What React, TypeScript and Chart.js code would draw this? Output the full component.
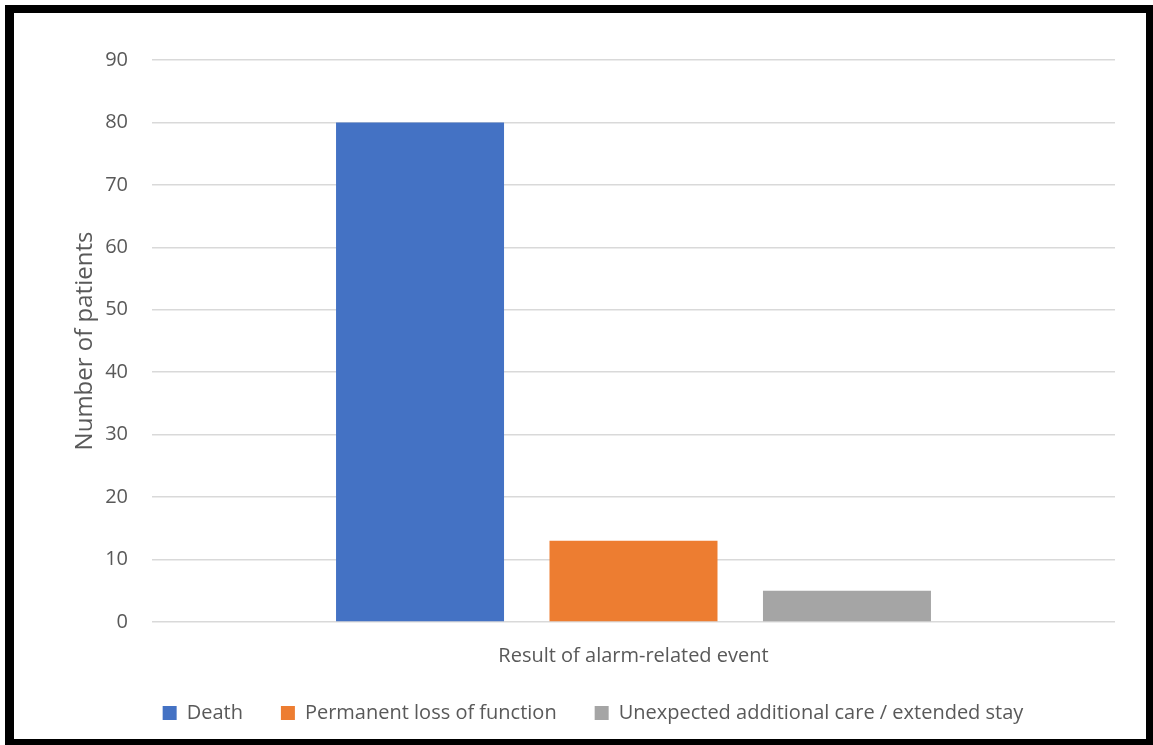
import React, { useEffect, useRef } from "react";
import { Chart, registerables } from "chart.js";

Chart.register(...registerables);

const categories = ["Result of alarm-related event"];
const seriesNames = ["Death", "Permanent loss of function", "Unexpected additional care / extended stay"];
const deathValues = [80];
const permanentLossValues = [13];
const additionalCareValues = [5];
const seriesColors = ["#4472C4", "#ED7D31", "#A5A5A5"];
const yTickMax = 90;
const yTickStep = 10;
const yTitle = "Number of patients";

const FONT = "'Open Sans', 'DejaVu Sans', sans-serif";
const TEXT = "#595959";

export default function App() {
  const canvasRef = useRef<HTMLCanvasElement | null>(null);

  useEffect(() => {
    document.body.style.margin = "0";
    const canvas = canvasRef.current;
    if (!canvas) return;
    const values = [deathValues, permanentLossValues, additionalCareValues];
    const chart = new Chart(canvas, {
      type: "bar",
      data: {
        labels: categories,
        datasets: seriesNames.map((name, i) => ({
          label: name,
          data: values[i],
          backgroundColor: seriesColors[i],
          borderWidth: 0,
          categoryPercentage: 0.665,
          barPercentage: 0.787,
        })),
      },
      options: {
        animation: false,
        responsive: false,
        maintainAspectRatio: false,
        layout: { padding: { left: 71, right: 38, top: 60, bottom: 12 } },
        plugins: {
          tooltip: { enabled: false },
          legend: {
            position: "bottom",
            labels: {
              boxWidth: 14,
              boxHeight: 14,
              padding: 38,
              color: TEXT,
              font: { family: FONT, size: 20 },
            },
          },
        },
        scales: {
          x: {
            afterFit: (scale: any) => {
              scale.height = 43;
            },
            grid: { display: false, drawTicks: false },
            border: { display: false },
            ticks: { color: TEXT, font: { family: FONT, size: 20 }, padding: 22 },
          },
          y: {
            min: 0,
            max: yTickMax,
            afterFit: (scale: any) => {
              scale.width = 81;
            },
            grid: { color: "#D9D9D9", lineWidth: 1.5, drawTicks: false },
            border: { display: false },
            ticks: {
              stepSize: yTickStep,
              color: TEXT,
              padding: 24,
              font: { family: FONT, size: 20 },
            },
            title: {
              display: true,
              text: yTitle,
              color: TEXT,
              font: { family: FONT, size: 24 },
              padding: 0,
            },
          },
        },
      },
    });
    return () => chart.destroy();
  }, []);

  return (
    <div
      style={{
        position: "fixed",
        left: 0,
        top: 0,
        width: 1153,
        height: 745,
        overflow: "hidden",
        background: "#fff",
      }}
    >
      <canvas
        ref={canvasRef}
        width={1153}
        height={745}
        style={{ position: "absolute", left: 0, top: 0 }}
      />
      <div
        style={{
          position: "absolute",
          left: 5,
          top: 5,
          width: 1148,
          height: 742,
          boxSizing: "border-box",
          borderStyle: "solid",
          borderColor: "#000",
          borderWidth: "8px 7px 8px 9px",
          pointerEvents: "none",
        }}
      />
    </div>
  );
}
